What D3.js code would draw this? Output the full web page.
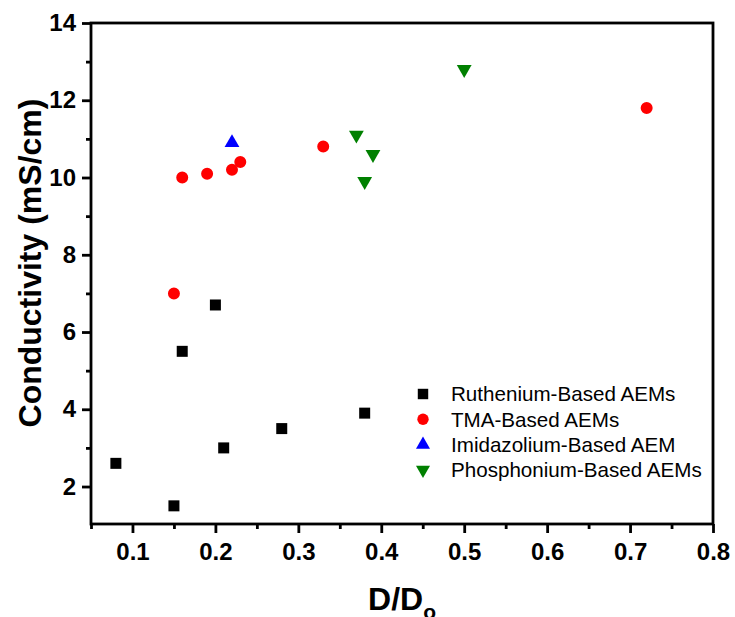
<!DOCTYPE html>
<html><head><meta charset="utf-8">
<script src="https://cdn.jsdelivr.net/npm/d3@7"></script>
<style>body{margin:0;background:#fff}text{font-family:"Liberation Sans",Arial,sans-serif}</style>
</head><body><svg id="c" width="735" height="617"></svg>
<script>
const xTicks=[0.1,0.2,0.3,0.4,0.5,0.6,0.7,0.8];
const yTicks=[2,4,6,8,10,12,14];
const xMinor=[0.05,0.15,0.25,0.35,0.45,0.55,0.65,0.75];
const yMinor=[3,5,7,9,11,13];
const ruthX=[0.08,0.15,0.16,0.20,0.21,0.28,0.38];
const ruthY=[2.6,1.5,5.5,6.7,3.0,3.5,3.9];
const tmaX=[0.15,0.16,0.19,0.22,0.23,0.33,0.72];
const tmaY=[7.0,10.0,10.1,10.2,10.4,10.8,11.8];
const imiX=[0.22];
const imiY=[10.9];
const phoX=[0.37,0.38,0.39,0.50];
const phoY=[11.1,9.9,10.6,12.8];
const seriesNames=["Ruthenium-Based AEMs","TMA-Based AEMs","Imidazolium-Based AEM","Phosphonium-Based AEMs"];
const seriesColors=["#000000","#ff0000","#0000ff","#008000"];

const svg=d3.select("#c");
const L=91,R=713,T=23,B=524;
const x=d3.scaleLinear().domain([0.05,0.8]).range([L,R]);
const y=d3.scaleLinear().domain([1.03,14]).range([B,T]);

const sym=[d3.symbolSquare,d3.symbolCircle,d3.symbolTriangle,d3.symbolTriangle];
const sizes=[121,113,95,95];
const rot=[0,0,0,180];
const data=[[ruthX,ruthY],[tmaX,tmaY],[imiX,imiY],[phoX,phoY]];

// frame
svg.append("rect").attr("x",L).attr("y",T).attr("width",R-L).attr("height",B-T)
  .attr("fill","none").attr("stroke","#000").attr("stroke-width",2.8);

// axes
const xa=svg.append("g").attr("transform",`translate(0,${B})`)
  .call(d3.axisBottom(x).tickValues(xTicks).tickSize(9).tickPadding(10).tickFormat(d3.format(".1f")));
const xm=svg.append("g").attr("transform",`translate(0,${B})`)
  .call(d3.axisBottom(x).tickValues(xMinor).tickSize(5).tickFormat(""));
const ya=svg.append("g").attr("transform",`translate(${L},0)`)
  .call(d3.axisLeft(y).tickValues(yTicks).tickSize(9).tickPadding(6).tickFormat(d3.format("d")));
const ym=svg.append("g").attr("transform",`translate(${L},0)`)
  .call(d3.axisLeft(y).tickValues(yMinor).tickSize(5).tickFormat(""));
[xa,xm,ya,ym].forEach(g=>{
  g.select(".domain").remove();
  g.selectAll("line").attr("stroke","#000").attr("stroke-width",2.8);
  g.selectAll("text").attr("font-family","Liberation Sans, Arial, sans-serif")
   .attr("font-weight","bold").attr("font-size",24).attr("fill","#000");
});

// points
data.forEach((d,i)=>{
  const pts=d[0].map((v,j)=>[v,d[1][j]]);
  svg.append("g").selectAll("path").data(pts).join("path")
    .attr("d",d3.symbol().type(sym[i]).size(sizes[i]))
    .attr("transform",p=>`translate(${x(p[0])},${y(p[1])}) rotate(${rot[i]})`)
    .attr("fill",seriesColors[i]);
});

// legend
const lg=svg.append("g");
seriesNames.forEach((n,i)=>{
  const yy=394+i*25.3;
  lg.append("path").attr("d",d3.symbol().type(sym[i]).size(sizes[i]*0.9))
    .attr("transform",`translate(423,${yy}) rotate(${rot[i]})`).attr("fill",seriesColors[i]);
  lg.append("text").attr("x",451).attr("y",yy).attr("dy","0.35em")
    .attr("font-size",20.6).attr("fill","#000").text(n);
});

// axis titles
svg.append("text").attr("transform",`translate(41,263) rotate(-90)`)
  .attr("text-anchor","middle").attr("font-size",32).attr("font-weight","bold").text("Conductivity (mS/cm)");
const xt=svg.append("text").attr("x",402).attr("y",610).attr("text-anchor","middle")
  .attr("font-size",32).attr("font-weight","bold");
xt.append("tspan").text("D/D");
xt.append("tspan").attr("font-size",21).attr("dy",9).text("o");
</script></body></html>
